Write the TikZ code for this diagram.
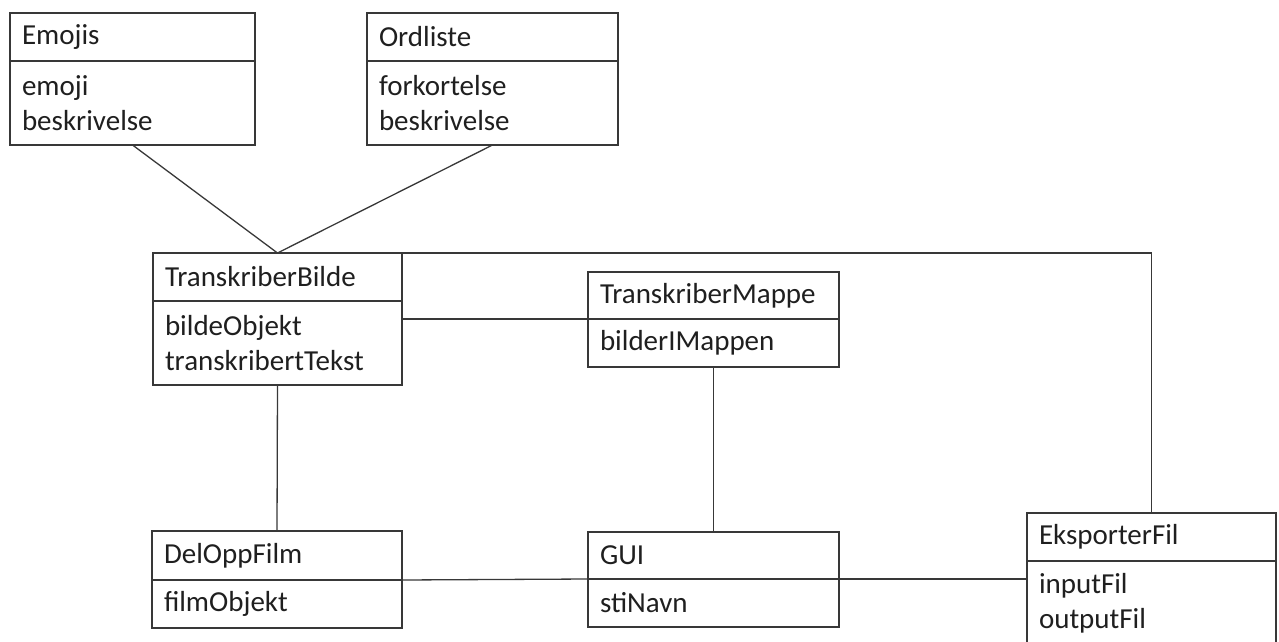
\documentclass[tikz,border=0pt]{standalone}
\usepackage{fontspec}
\setmainfont{Carlito}
\usetikzlibrary{calc}
\tikzset{
  ln/.style={draw=black!78, line width=1.4pt},
  classpart/.style={ln, anchor=north west, outer sep=0pt, inner xsep=12pt, inner ysep=0pt,
    align=left, text=black!88, font=\fontsize{29}{35}\selectfont},
  hdr/.style={classpart, minimum height=48pt},
  bdy/.style={classpart, minimum height=#1},
  bdy/.default=84pt,
  conn/.style={ln, line width=1.3pt}
}
\begin{document}
\begin{tikzpicture}[x=1pt,y=-1pt]
\useasboundingbox (0,0) rectangle (1279,642);
\clip (0,0) rectangle (1279,642);
% Emojis
\node[hdr, text width=221pt] (emH) at (10,13) {Emojis};
\node[bdy, text width=221pt] (emB) at (emH.south west) {emoji\\beskrivelse};
% Ordliste
\node[hdr, text width=227pt] (orH) at (367,13) {Ordliste};
\node[bdy, text width=227pt] (orB) at (orH.south west) {forkortelse\\beskrivelse};
% TranskriberBilde
\node[hdr, text width=225pt] (tbH) at (153,253) {TranskriberBilde};
\node[bdy, text width=225pt] (tbB) at (tbH.south west) {bildeObjekt\\transkribertTekst};
% TranskriberMappe
\node[hdr, text width=227pt, minimum height=47pt] (tmH) at (588,272) {TranskriberMappe};
\node[bdy=48pt, text width=227pt] (tmB) at (tmH.south west) {bilderIMappen};
% DelOppFilm
\node[hdr, text width=226pt, minimum height=49pt] (dfH) at (152,531) {DelOppFilm};
\node[bdy=48pt, text width=226pt] (dfB) at (dfH.south west) {filmObjekt};
% GUI
\node[hdr, text width=227pt, minimum height=47pt] (guH) at (588,532) {GUI};
\node[bdy=48pt, text width=227pt] (guB) at (guH.south west) {stiNavn};
% EksporterFil
\node[hdr, text width=225pt] (exH) at (1027,513) {EksporterFil};
\node[bdy, text width=225pt] (exB) at (exH.south west) {inputFil\\outputFil};
% connectors
\draw[conn] (emB.south) -- (tbH.north);
\draw[conn] (orB.south) -- (tbH.north);
\draw[conn] (tbH.north east) -| (exH.north);
\draw[conn] (tmB.north west) -- (tmB.north west -| tbB.east);
\draw[conn] (tbB.south) -- (dfH.north);
\draw[conn] (tmB.south) -- (guH.north);
\draw[conn] (dfB.north east) -- (guB.north west);
\draw[conn] (guB.north east) -- (guB.north east -| exB.west);
\end{tikzpicture}
\end{document}
